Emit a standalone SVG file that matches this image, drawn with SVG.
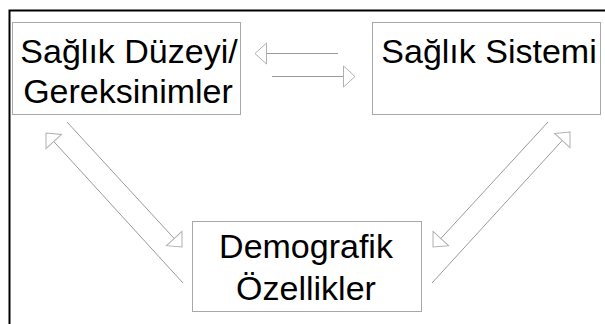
<svg xmlns="http://www.w3.org/2000/svg" width="605" height="324" viewBox="0 0 605 324">
<style>
.box{fill:#fff;stroke:#a8a8a8;stroke-width:1}
.lbl{font-family:"Liberation Sans",Arial,sans-serif;font-size:34px;fill:#000;text-anchor:middle}
.con{stroke:#9a9a9a;stroke-width:1;fill:none;marker-end:url(#ah)}
</style>
<defs>
<marker id="ah" markerUnits="userSpaceOnUse" markerWidth="14" markerHeight="24" refX="12" refY="11" orient="auto" overflow="visible">
<path d="M0.5,0.5 L12,11 L0.5,21.5 Z" fill="#fff" stroke="#b0b0b0" stroke-width="1"/>
</marker>
</defs>
<rect width="605" height="324" fill="#fff"/>
<path d="M9.5,324 V10.5 H605" fill="none" stroke="#000" stroke-width="2"/>
<g id="connectors">
<line class="con" x1="338" y1="53.5" x2="255" y2="53.5"/>
<line class="con" x1="272" y1="76.5" x2="355" y2="76.5"/>
<line class="con" x1="67" y1="122" x2="182" y2="247"/>
<line class="con" x1="183" y1="283" x2="46" y2="133"/>
<line class="con" x1="548" y1="122" x2="433" y2="247"/>
<line class="con" x1="432" y1="283" x2="570" y2="132"/>
</g>
<g id="saglik-duzeyi">
<rect class="box" x="12.5" y="22.5" width="228" height="92"/>
<text class="lbl" x="129" y="63">Sağlık Düzeyi/</text>
<text class="lbl" x="128" y="103">Gereksinimler</text>
</g>
<g id="saglik-sistemi">
<rect class="box" x="372.5" y="22.5" width="228" height="92"/>
<text class="lbl" x="489" y="63">Sağlık Sistemi</text>
</g>
<g id="demografik">
<rect class="box" x="192.5" y="221.5" width="229" height="90"/>
<text class="lbl" x="306" y="258">Demografik</text>
<text class="lbl" x="306" y="300">Özellikler</text>
</g>
</svg>
